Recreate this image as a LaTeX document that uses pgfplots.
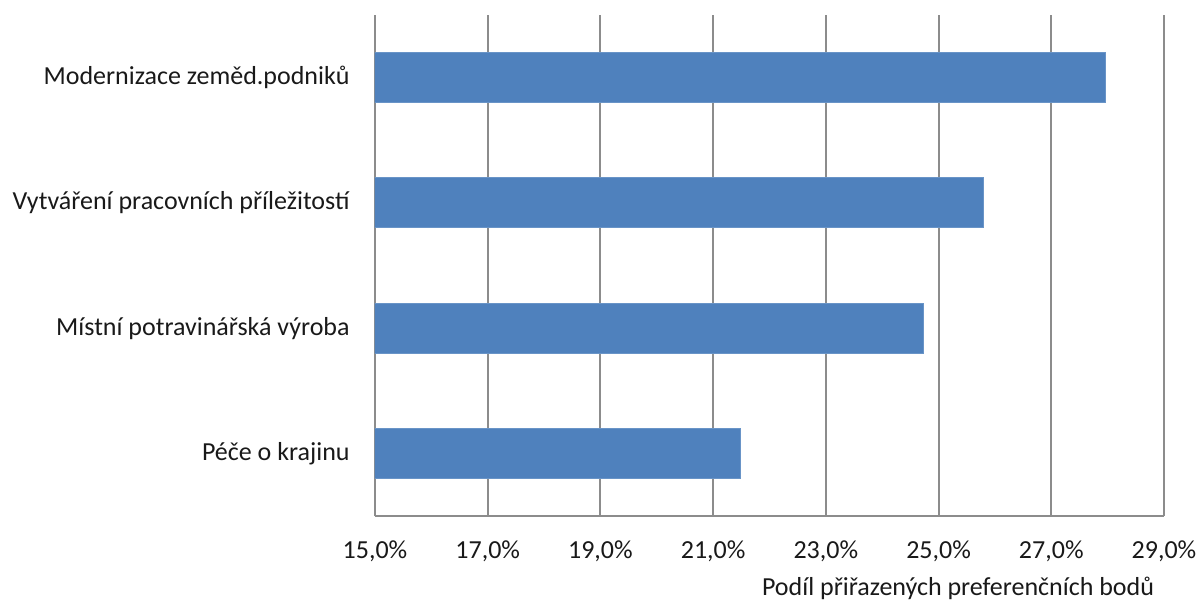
\documentclass[border=0pt]{standalone}
\usepackage{pgfplots}
\pgfplotsset{compat=1.18}
\usepackage{fontspec}
\setmainfont{Carlito}
\definecolor{barblue}{HTML}{4F81BD}
\definecolor{gridgray}{HTML}{8C8C8C}
\begin{document}
\fontsize{13}{15.5}\selectfont
\begin{tikzpicture}
\path[use as bounding box] (-187.5pt,-43pt) rectangle (412pt,258pt);
\begin{axis}[
  at={(0,0)}, anchor=south west,
  scale only axis,
  width=394.5pt, height=250.5pt,
  xmin=15, xmax=29, ymin=-0.5, ymax=3.5,
  xtick={15,17,19,21,23,25,27,29},
  xticklabels={{15,0\%},{17,0\%},{19,0\%},{21,0\%},{23,0\%},{25,0\%},{27,0\%},{29,0\%}},
  ytick={0,1,2,3},
  yticklabels={Péče o krajinu, Místní potravinářská výroba, Vytváření pracovních příležitostí, Modernizace zeměd.podniků},
  major tick length=0pt,
  axis x line*=bottom, axis y line*=left,
  axis line style={draw=gridgray, line width=1pt},
  xmajorgrids,
  grid style={draw=gridgray, line width=1pt},
  ticklabel style={font=\fontsize{13}{15.5}\selectfont, text=black!90},
  xticklabel style={anchor=base, inner sep=0pt, yshift=-21pt},
  yticklabel style={anchor=east, inner sep=0pt, xshift=-12.5pt},
  xlabel={Podíl přiřazených preferenčních bodů},
  xlabel style={at={(rel axis cs:0.739,0)}, anchor=base, inner sep=0pt, yshift=-39.5pt, font=\fontsize{13}{15.5}\selectfont, text=black!90},
  clip=true,
]
\addplot[xbar, fill=barblue, draw=barblue!85!white, line width=0.5pt, bar width=25pt]
  coordinates {(21.49,0) (24.74,1) (25.80,2) (27.96,3)};
\end{axis}
\end{tikzpicture}
\end{document}
